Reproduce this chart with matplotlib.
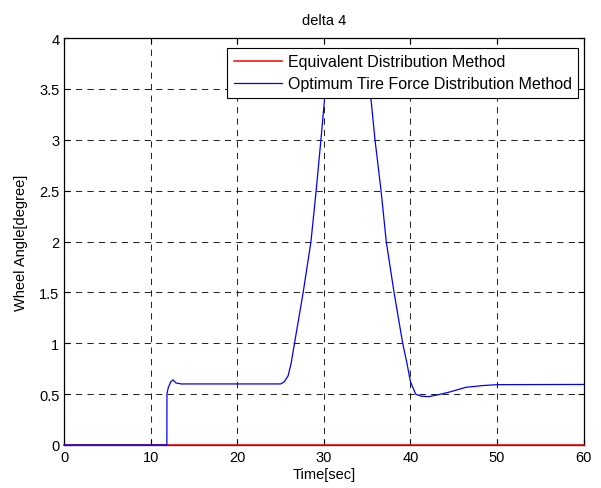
import matplotlib
matplotlib.use("Agg")
import matplotlib.pyplot as plt

plt.rcParams['font.family'] = ['Liberation Sans', 'DejaVu Sans']

# Equivalent Distribution Method (stays at zero)
t_eq = [0, 60]
delta_eq = [0, 0]

# Optimum Tire Force Distribution Method
t_opt = [0, 11.85, 11.86, 12.0, 12.3, 12.56, 12.9, 13.5, 25.0, 25.4, 25.86,
         26.2, 26.6, 27.6, 28.5, 29.1, 29.65, 30.1, 30.8, 31.6, 32.5, 33.4,
         34.3, 34.9, 35.4, 35.9, 36.6, 37.2, 38.1, 39.1, 39.6, 40.0, 40.6,
         41.2, 42.1, 43.0, 44.5, 46.4, 48.5, 50.1, 60]
delta_opt = [0, 0, 0.5, 0.56, 0.62, 0.64, 0.61, 0.6, 0.6, 0.62, 0.68,
             0.8, 1.0, 1.5, 2.0, 2.5, 3.0, 3.43, 3.65, 3.8, 3.86, 3.82,
             3.68, 3.55, 3.43, 3.0, 2.5, 2.0, 1.5, 1.0, 0.8, 0.62, 0.5,
             0.48, 0.475, 0.49, 0.52, 0.567, 0.585, 0.593, 0.595]

xticks = [0, 10, 20, 30, 40, 50, 60]
yticks = [0, 0.5, 1, 1.5, 2, 2.5, 3, 3.5, 4]
ytick_labels = ["0", "0.5", "1", "1.5", "2", "2.5", "3", "3.5", "4"]

fig = plt.figure(figsize=(6.01, 4.89), dpi=100)
ax = fig.add_axes([0.107, 0.088, 0.864, 0.832])

ax.plot(t_eq, delta_eq, color="red", lw=1.1, zorder=3, clip_on=False,
        label="Equivalent Distribution Method")
ax.plot(t_opt, delta_opt, color="blue", lw=0.9, zorder=4, clip_on=False,
        label="Optimum Tire Force Distribution Method")

ax.set_xlim(0, 60)
ax.set_ylim(0, 4)
ax.set_xticks(xticks)
ax.set_yticks(yticks)
ax.set_yticklabels(ytick_labels)
ax.tick_params(direction="in", top=True, right=True, labelsize=10.5,
               length=4, width=0.8, colors="black")
ax.grid(True, color="black", linestyle=(0, (6, 5)), lw=0.75, alpha=0.85)
for s in ax.spines.values():
    s.set_linewidth(0.9)

ax.set_title("delta 4", fontsize=10.5, pad=10)
ax.set_xlabel("Time[sec]", fontsize=10.5, labelpad=2)
ax.set_ylabel("Wheel Angle[degree]", fontsize=10.5, labelpad=8)

leg = ax.legend(loc="upper right", bbox_to_anchor=(0.99, 0.976),
                borderaxespad=0, fancybox=False, framealpha=1,
                edgecolor="black", fontsize=11.5, handlelength=3.0,
                handletextpad=0.4, borderpad=0.4, labelspacing=0.45)
leg.get_frame().set_linewidth(0.8)
leg.set_zorder(5)

fig.savefig("out.png", dpi=100)
